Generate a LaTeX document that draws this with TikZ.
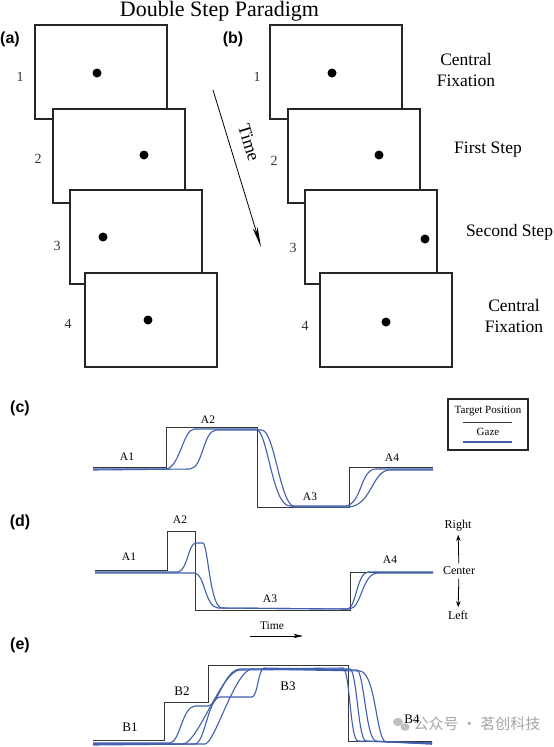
\documentclass[tikz,border=0pt]{standalone}
\usepackage{fontspec}
\setmainfont{Liberation Serif}
\newfontfamily\labfont{Liberation Sans}
\newfontfamily\cjkfont{Noto Sans CJK SC}
\usetikzlibrary{arrows.meta}
\definecolor{gazeblue}{RGB}{65,95,175}
\definecolor{tgtgray}{RGB}{55,55,55}
\newcommand{\fs}[1]{\fontsize{#1}{#1}\selectfont}
\tikzset{
  screen/.style={draw=black!85, line width=1.6pt, fill=white, minimum width=132pt, minimum height=94pt, inner sep=0pt, outer sep=0pt},
  tdot/.style={circle, fill=black, minimum size=9pt, inner sep=0pt},
  panel/.style={font=\labfont\bfseries\fs{16}},
  num/.style={font=\fs{14}, text=black!80},
  stepname/.style={font=\fontsize{17.5}{21}\selectfont, align=center},
  tgt/.style={draw=tgtgray, line width=1pt},
  gaze/.style={draw=gazeblue, line width=1.1pt},
  alab/.style={font=\fs{11.5}},
  blab/.style={font=\fs{13}},
  small/.style={font=\fs{11.5}}
}
\begin{document}
\begin{tikzpicture}[x=1pt,y=-1pt]
\useasboundingbox (0,0) rectangle (554,747);
\fill[white] (0,0) rectangle (554,747);

% title
\node[font=\fs{22}, anchor=base] (title) at (219.5,16) {Double Step Paradigm};
\node[panel] (pa) at (10,39) {(a)};
\node[panel] (pb) at (233,39) {(b)};

% panel (a)
\node[screen] (a1) at (101,72) {};
\node[tdot] (ad1) at (97,73) {};
\node[screen] (a2) at (119,156) {};
\node[tdot] (ad2) at (144,155) {};
\node[screen] (a3) at (136,237) {};
\node[tdot] (ad3) at (103,237) {};
\node[screen] (a4) at (151,320) {};
\node[tdot] (ad4) at (148,320) {};
\node[num] (an1) at (20,77) {1};
\node[num] (an2) at (38,159) {2};
\node[num] (an3) at (57,246) {3};
\node[num] (an4) at (68,324) {4};

% panel (b)
\node[screen] (b1) at (336,72) {};
\node[tdot] (bd1) at (332,73) {};
\node[screen] (b2) at (354,156) {};
\node[tdot] (bd2) at (379,155) {};
\node[screen] (b3) at (371,237) {};
\node[tdot] (bd3) at (425,239) {};
\node[screen] (b4) at (386,320) {};
\node[tdot] (bd4) at (386,322) {};
\node[num] (bn1) at (257,77) {1};
\node[num] (bn2) at (274,161) {2};
\node[num] (bn3) at (293,248) {3};
\node[num] (bn4) at (305,326) {4};

\node[stepname] (s1) at (466,70) {Central\\Fixation};
\node[stepname] (s2) at (488,150) {First Step};
\node[stepname] (s3) at (509.5,232) {Second Step};
\node[stepname] (s4) at (514,316) {Central\\Fixation};

% time arrow
\coordinate (ts) at (213,90);
\coordinate (te) at (261,247);
\draw[line width=0.8pt, -{Stealth[length=20pt,width=5pt,inset=5pt]}] (ts) -- (te);
\node[font=\fs{18}, rotate=-73, inner sep=0pt] (timediag) at (249,143) {Time};

% panel (c)
\node[panel] (pc) at (20,408) {(c)};
\draw[tgt] (93,467) -- (166,467) -- (166,427) -- (257,427) -- (257,507) -- (349,507) -- (349,467) -- (433,467);
\draw[gaze] (93,469) -- (166,469) .. controls (180,467) and (183,430) .. (194,429) -- (256,429)
  .. controls (268,431) and (272,506) .. (290,506) -- (345,506)
  .. controls (362,505) and (360,469) .. (376,469) -- (433,469);
\draw[gaze] (93,470) -- (190,469) .. controls (203,468) and (203,431) .. (216,430) -- (262,430)
  .. controls (275,432) and (280,506) .. (295,507) -- (349,507)
  .. controls (372,505) and (372,470) .. (390,470) -- (433,470);
\node[alab] (ca1) at (127,457) {A1};
\node[alab] (ca2) at (208,420) {A2};
\node[alab] (ca3) at (310,497) {A3};
\node[alab] (ca4) at (392,458) {A4};

% legend
\node[draw=black!85, line width=1.3pt, minimum width=80pt, minimum height=51pt, inner sep=0pt] (legend) at (488,424.5) {};
\node[font=\fs{11}] (legt) at (488,411) {Target Position};
\node[font=\fs{11}] (legg) at (488,432) {Gaze};
\coordinate (lt1) at (463,422); \coordinate (lt2) at (512,422);
\coordinate (lg1) at (463,442); \coordinate (lg2) at (512,442);
\draw[tgt] (lt1) -- (lt2);
\draw[gaze] (lg1) -- (lg2);

% panel (d)
\node[panel] (pd) at (20,522) {(d)};
\draw[tgt] (95,570) -- (167,570) -- (167,531) -- (195,531) -- (195,610) -- (350,610) -- (350,572) -- (433,572);
\draw[gaze] (95,572) -- (178,572) .. controls (188,570) and (188,543) .. (196,543) -- (203,543)
  .. controls (208,545) and (210,608) .. (222,608) -- (348,609)
  .. controls (356,607) and (357,573) .. (368,572) -- (433,572);
\draw[gaze] (95,573) -- (195,573) .. controls (205,575) and (205,607) .. (218,608) -- (350,609)
  .. controls (362,607) and (362,573) .. (378,573) -- (433,573);
\node[alab] (da1) at (129,557) {A1};
\node[alab] (da2) at (180,520) {A2};
\node[alab] (da3) at (270,599) {A3};
\node[alab] (da4) at (390,560) {A4};

\node[small] (timeh) at (272,626) {Time};
\coordinate (th1) at (250,636); \coordinate (th2) at (303,636);
\draw[line width=0.6pt, -{Stealth[length=9pt,width=4pt,inset=2pt]}] (th1) -- (th2);

\node[font=\fs{12}] (right) at (458,526) {Right};
\node[font=\fs{12}] (center) at (459,571) {Center};
\node[font=\fs{12}] (left) at (458,615) {Left};
\draw[line width=0.8pt, -{Stealth[length=6pt,width=4.5pt]}] (center) -- (right);
\draw[line width=0.8pt, -{Stealth[length=6pt,width=4.5pt]}] (center) -- (left);

% panel (e)
\node[panel] (pe) at (20,645) {(e)};
% watermark
\fill[black!25] (398,722) ellipse (5pt and 4.2pt);
\fill[black!25] (405,727) ellipse (4.5pt and 3.8pt);
\node[font=\cjkfont\fs{15}, text=black!35, anchor=west] (wm) at (410,724) {公众号 · 茗创科技};

\draw[tgt] (93,740) -- (164,740) -- (164,702) -- (208,702) -- (208,665) -- (348,665) -- (348,741) -- (432,741);
\draw[gaze] (93,743) -- (170,743) .. controls (180,742) and (182,707) .. (195,706) -- (208,706)
  .. controls (218,706) and (224,670) .. (240,669) -- (343,668)
  .. controls (350,670) and (350,740) .. (358,741) -- (432,743);
\draw[gaze] (93,744) -- (183,744) .. controls (198,743) and (222,670) .. (240,670) -- (350,669)
  .. controls (357,671) and (358,740) .. (366,741) -- (432,744);
\draw[gaze] (93,745) -- (195,744) .. controls (205,743) and (208,698) .. (220,697) -- (252,697)
  .. controls (258,696) and (258,669) .. (264,668) -- (357,670)
  .. controls (364,672) and (366,740) .. (376,741) -- (432,744);
\draw[gaze] (93,744) -- (205,744) .. controls (215,743) and (235,670) .. (252,669) -- (360,671)
  .. controls (376,673) and (376,740) .. (386,742) -- (432,743);
\node[blab] (eb1) at (130,727) {B1};
\node[blab] (eb2) at (182,691) {B2};
\node[blab] (eb3) at (288,686) {B3};
\node[blab] (eb4) at (412,719) {B4};
\end{tikzpicture}
\end{document}
